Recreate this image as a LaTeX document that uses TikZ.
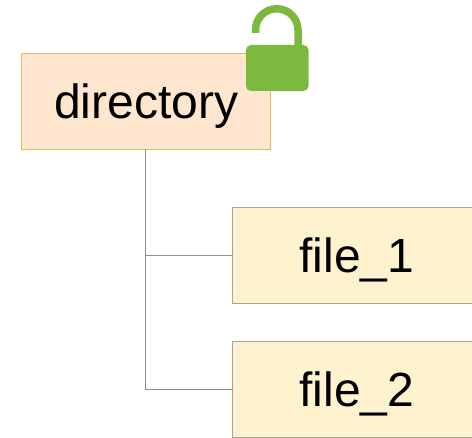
\documentclass[tikz,border=0pt]{standalone}
\usepackage{fontspec}
\setmainfont{Liberation Sans}
\definecolor{dirfill}{HTML}{FFE6CF}
\definecolor{dirline}{HTML}{E0B860}
\definecolor{filefill}{HTML}{FFF2CF}
\definecolor{fileline}{HTML}{A8A49A}
\definecolor{lockgreen}{HTML}{7EB93F}
\definecolor{wire}{HTML}{8C8C8C}
\newcommand{\lowered}[1]{\raisebox{-17pt}[0pt][0pt]{#1}}
\tikzset{
  box/.style={draw, line width=1pt, minimum height=95.5pt, inner sep=0pt, outer sep=0pt, font=\fontsize{48}{56}\selectfont, text=black},
  dirbox/.style={box, fill=dirfill, draw=dirline, minimum width=249.5pt},
  filebox/.style={box, fill=filefill, draw=fileline, minimum width=240pt},
  wireline/.style={draw=wire, line width=1pt},
}
\begin{document}
\begin{tikzpicture}[x=1pt,y=-1pt]
\useasboundingbox (0,0) rectangle (472,438);
\node[dirbox] (dir) at (145.75,101.75) {\hspace{1pt}\lowered{directory}};
\node[filebox] (f1) at (352.5,255.5) {\hspace{9pt}\lowered{file\_1}};
\node[filebox] (f2) at (352.5,389.5) {\hspace{9pt}\lowered{file\_2}};
\coordinate (j1) at (dir.south |- f1.west);
\coordinate (j2) at (dir.south |- f2.west);
\draw[wireline] (dir.south) -- (j1) -- (j2) -- (f2.west);
\draw[wireline] (j1) -- (f1.west);
\fill[lockgreen, rounded corners=5pt] (246,45) rectangle (308.5,91);
\draw[lockgreen, line width=7.5pt] (255.5,33) -- (255.5,30) arc[start angle=180, end angle=0, x radius=21.25pt, y radius=21.25pt] -- (298,46);
\end{tikzpicture}
\end{document}
